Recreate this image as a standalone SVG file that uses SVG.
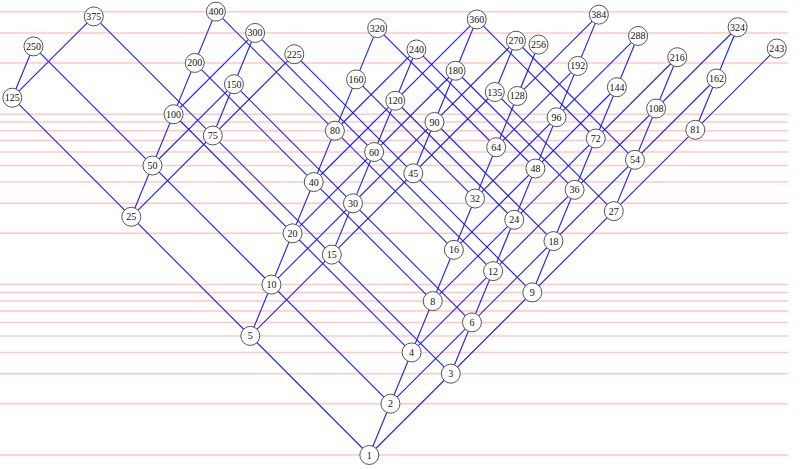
<svg xmlns="http://www.w3.org/2000/svg" width="800" height="469" viewBox="0 0 800 469">
<style>
.grid{stroke:#ffc8c8;stroke-width:1.5;fill:none}
.c line{stroke:#2424e8;stroke-width:1.15}
.n circle{fill:#fff;stroke:#555;stroke-width:1}
.n text{font-family:"Liberation Serif","Times New Roman",serif;font-size:10px;fill:#111;text-anchor:middle;dominant-baseline:central}
</style>
<rect width="800" height="469" fill="#fff"/>
<path id="grid" class="grid" d="M0 455H788M0 403.71H788M0 373.7H788M0 352.41H788M0 335.9H788M0 322.41H788M0 311H788M0 301.12H788M0 292.41H788M0 284.61H788M0 233.32H788M0 203.31H788M0 182.02H788M0 165.51H788M0 152.02H788M0 140.61H788M0 130.73H788M0 122.02H788M0 114.22H788M0 62.92H788M0 32.92H788M0 11.63H788"/>
<g id="connectors" class="c">
<line x1="369.3" y1="455" x2="538.5" y2="44.66"/>
<line x1="450.8" y1="373.7" x2="598.85" y2="14.65"/>
<line x1="532.3" y1="292.41" x2="638.05" y2="35.94"/>
<line x1="613.8" y1="211.11" x2="677.25" y2="57.23"/>
<line x1="695.3" y1="129.81" x2="737.6" y2="27.23"/>
<line x1="250.3" y1="335.9" x2="377.2" y2="28.14"/>
<line x1="331.8" y1="254.61" x2="416.4" y2="49.43"/>
<line x1="413.3" y1="173.31" x2="476.75" y2="19.43"/>
<line x1="494.8" y1="92.01" x2="515.95" y2="40.72"/>
<line x1="131.3" y1="216.8" x2="215.9" y2="11.63"/>
<line x1="212.8" y1="135.51" x2="255.1" y2="32.92"/>
<line x1="12.3" y1="97.71" x2="33.45" y2="46.41"/>
<line x1="369.3" y1="455" x2="776.8" y2="48.52"/>
<line x1="390.45" y1="403.71" x2="716.45" y2="78.52"/>
<line x1="411.6" y1="352.41" x2="737.6" y2="27.23"/>
<line x1="432.75" y1="301.12" x2="677.25" y2="57.23"/>
<line x1="453.9" y1="249.83" x2="616.9" y2="87.23"/>
<line x1="475.05" y1="198.54" x2="638.05" y2="35.94"/>
<line x1="496.2" y1="147.24" x2="577.7" y2="65.94"/>
<line x1="517.35" y1="95.95" x2="598.85" y2="14.65"/>
<line x1="250.3" y1="335.9" x2="494.8" y2="92.01"/>
<line x1="271.45" y1="284.61" x2="515.95" y2="40.72"/>
<line x1="292.6" y1="233.32" x2="455.6" y2="70.73"/>
<line x1="313.75" y1="182.02" x2="476.75" y2="19.43"/>
<line x1="334.9" y1="130.73" x2="416.4" y2="49.43"/>
<line x1="131.3" y1="216.8" x2="294.3" y2="54.21"/>
<line x1="152.45" y1="165.51" x2="233.95" y2="84.21"/>
<line x1="173.6" y1="114.22" x2="255.1" y2="32.92"/>
<line x1="12.3" y1="97.71" x2="93.8" y2="16.41"/>
<line x1="369.3" y1="455" x2="12.3" y2="97.71"/>
<line x1="390.45" y1="403.71" x2="33.45" y2="46.41"/>
<line x1="411.6" y1="352.41" x2="173.6" y2="114.22"/>
<line x1="432.75" y1="301.12" x2="194.75" y2="62.92"/>
<line x1="453.9" y1="249.83" x2="215.9" y2="11.63"/>
<line x1="475.05" y1="198.54" x2="356.05" y2="79.43"/>
<line x1="496.2" y1="147.24" x2="377.2" y2="28.14"/>
<line x1="450.8" y1="373.7" x2="93.8" y2="16.41"/>
<line x1="471.95" y1="322.41" x2="233.95" y2="84.21"/>
<line x1="493.1" y1="271.12" x2="255.1" y2="32.92"/>
<line x1="514.25" y1="219.82" x2="395.25" y2="100.72"/>
<line x1="535.4" y1="168.53" x2="416.4" y2="49.43"/>
<line x1="532.3" y1="292.41" x2="294.3" y2="54.21"/>
<line x1="553.45" y1="241.11" x2="434.45" y2="122.02"/>
<line x1="574.6" y1="189.82" x2="455.6" y2="70.73"/>
<line x1="595.75" y1="138.53" x2="476.75" y2="19.43"/>
<line x1="613.8" y1="211.11" x2="494.8" y2="92.01"/>
<line x1="634.95" y1="159.82" x2="515.95" y2="40.72"/>
</g>
<g id="nodes" class="n">
<g id="n1"><circle cx="369.3" cy="455" r="9.5"/><text x="369.3" y="455">1</text></g>
<g id="n2"><circle cx="390.45" cy="403.71" r="9.5"/><text x="390.45" y="403.71">2</text></g>
<g id="n4"><circle cx="411.6" cy="352.41" r="9.5"/><text x="411.6" y="352.41">4</text></g>
<g id="n8"><circle cx="432.75" cy="301.12" r="9.5"/><text x="432.75" y="301.12">8</text></g>
<g id="n16"><circle cx="453.9" cy="249.83" r="9.5"/><text x="453.9" y="249.83">16</text></g>
<g id="n32"><circle cx="475.05" cy="198.54" r="9.5"/><text x="475.05" y="198.54">32</text></g>
<g id="n64"><circle cx="496.2" cy="147.24" r="9.5"/><text x="496.2" y="147.24">64</text></g>
<g id="n128"><circle cx="517.35" cy="95.95" r="9.5"/><text x="517.35" y="95.95">128</text></g>
<g id="n256"><circle cx="538.5" cy="44.66" r="9.5"/><text x="538.5" y="44.66">256</text></g>
<g id="n3"><circle cx="450.8" cy="373.7" r="9.5"/><text x="450.8" y="373.7">3</text></g>
<g id="n6"><circle cx="471.95" cy="322.41" r="9.5"/><text x="471.95" y="322.41">6</text></g>
<g id="n12"><circle cx="493.1" cy="271.12" r="9.5"/><text x="493.1" y="271.12">12</text></g>
<g id="n24"><circle cx="514.25" cy="219.82" r="9.5"/><text x="514.25" y="219.82">24</text></g>
<g id="n48"><circle cx="535.4" cy="168.53" r="9.5"/><text x="535.4" y="168.53">48</text></g>
<g id="n96"><circle cx="556.55" cy="117.24" r="9.5"/><text x="556.55" y="117.24">96</text></g>
<g id="n192"><circle cx="577.7" cy="65.94" r="9.5"/><text x="577.7" y="65.94">192</text></g>
<g id="n384"><circle cx="598.85" cy="14.65" r="9.5"/><text x="598.85" y="14.65">384</text></g>
<g id="n9"><circle cx="532.3" cy="292.41" r="9.5"/><text x="532.3" y="292.41">9</text></g>
<g id="n18"><circle cx="553.45" cy="241.11" r="9.5"/><text x="553.45" y="241.11">18</text></g>
<g id="n36"><circle cx="574.6" cy="189.82" r="9.5"/><text x="574.6" y="189.82">36</text></g>
<g id="n72"><circle cx="595.75" cy="138.53" r="9.5"/><text x="595.75" y="138.53">72</text></g>
<g id="n144"><circle cx="616.9" cy="87.23" r="9.5"/><text x="616.9" y="87.23">144</text></g>
<g id="n288"><circle cx="638.05" cy="35.94" r="9.5"/><text x="638.05" y="35.94">288</text></g>
<g id="n27"><circle cx="613.8" cy="211.11" r="9.5"/><text x="613.8" y="211.11">27</text></g>
<g id="n54"><circle cx="634.95" cy="159.82" r="9.5"/><text x="634.95" y="159.82">54</text></g>
<g id="n108"><circle cx="656.1" cy="108.53" r="9.5"/><text x="656.1" y="108.53">108</text></g>
<g id="n216"><circle cx="677.25" cy="57.23" r="9.5"/><text x="677.25" y="57.23">216</text></g>
<g id="n81"><circle cx="695.3" cy="129.81" r="9.5"/><text x="695.3" y="129.81">81</text></g>
<g id="n162"><circle cx="716.45" cy="78.52" r="9.5"/><text x="716.45" y="78.52">162</text></g>
<g id="n324"><circle cx="737.6" cy="27.23" r="9.5"/><text x="737.6" y="27.23">324</text></g>
<g id="n243"><circle cx="776.8" cy="48.52" r="9.5"/><text x="776.8" y="48.52">243</text></g>
<g id="n5"><circle cx="250.3" cy="335.9" r="9.5"/><text x="250.3" y="335.9">5</text></g>
<g id="n10"><circle cx="271.45" cy="284.61" r="9.5"/><text x="271.45" y="284.61">10</text></g>
<g id="n20"><circle cx="292.6" cy="233.32" r="9.5"/><text x="292.6" y="233.32">20</text></g>
<g id="n40"><circle cx="313.75" cy="182.02" r="9.5"/><text x="313.75" y="182.02">40</text></g>
<g id="n80"><circle cx="334.9" cy="130.73" r="9.5"/><text x="334.9" y="130.73">80</text></g>
<g id="n160"><circle cx="356.05" cy="79.43" r="9.5"/><text x="356.05" y="79.43">160</text></g>
<g id="n320"><circle cx="377.2" cy="28.14" r="9.5"/><text x="377.2" y="28.14">320</text></g>
<g id="n15"><circle cx="331.8" cy="254.61" r="9.5"/><text x="331.8" y="254.61">15</text></g>
<g id="n30"><circle cx="352.95" cy="203.31" r="9.5"/><text x="352.95" y="203.31">30</text></g>
<g id="n60"><circle cx="374.1" cy="152.02" r="9.5"/><text x="374.1" y="152.02">60</text></g>
<g id="n120"><circle cx="395.25" cy="100.72" r="9.5"/><text x="395.25" y="100.72">120</text></g>
<g id="n240"><circle cx="416.4" cy="49.43" r="9.5"/><text x="416.4" y="49.43">240</text></g>
<g id="n45"><circle cx="413.3" cy="173.31" r="9.5"/><text x="413.3" y="173.31">45</text></g>
<g id="n90"><circle cx="434.45" cy="122.02" r="9.5"/><text x="434.45" y="122.02">90</text></g>
<g id="n180"><circle cx="455.6" cy="70.73" r="9.5"/><text x="455.6" y="70.73">180</text></g>
<g id="n360"><circle cx="476.75" cy="19.43" r="9.5"/><text x="476.75" y="19.43">360</text></g>
<g id="n135"><circle cx="494.8" cy="92.01" r="9.5"/><text x="494.8" y="92.01">135</text></g>
<g id="n270"><circle cx="515.95" cy="40.72" r="9.5"/><text x="515.95" y="40.72">270</text></g>
<g id="n25"><circle cx="131.3" cy="216.8" r="9.5"/><text x="131.3" y="216.8">25</text></g>
<g id="n50"><circle cx="152.45" cy="165.51" r="9.5"/><text x="152.45" y="165.51">50</text></g>
<g id="n100"><circle cx="173.6" cy="114.22" r="9.5"/><text x="173.6" y="114.22">100</text></g>
<g id="n200"><circle cx="194.75" cy="62.92" r="9.5"/><text x="194.75" y="62.92">200</text></g>
<g id="n400"><circle cx="215.9" cy="11.63" r="9.5"/><text x="215.9" y="11.63">400</text></g>
<g id="n75"><circle cx="212.8" cy="135.51" r="9.5"/><text x="212.8" y="135.51">75</text></g>
<g id="n150"><circle cx="233.95" cy="84.21" r="9.5"/><text x="233.95" y="84.21">150</text></g>
<g id="n300"><circle cx="255.1" cy="32.92" r="9.5"/><text x="255.1" y="32.92">300</text></g>
<g id="n225"><circle cx="294.3" cy="54.21" r="9.5"/><text x="294.3" y="54.21">225</text></g>
<g id="n125"><circle cx="12.3" cy="97.71" r="9.5"/><text x="12.3" y="97.71">125</text></g>
<g id="n250"><circle cx="33.45" cy="46.41" r="9.5"/><text x="33.45" y="46.41">250</text></g>
<g id="n375"><circle cx="93.8" cy="16.41" r="9.5"/><text x="93.8" y="16.41">375</text></g>
</g>
</svg>
